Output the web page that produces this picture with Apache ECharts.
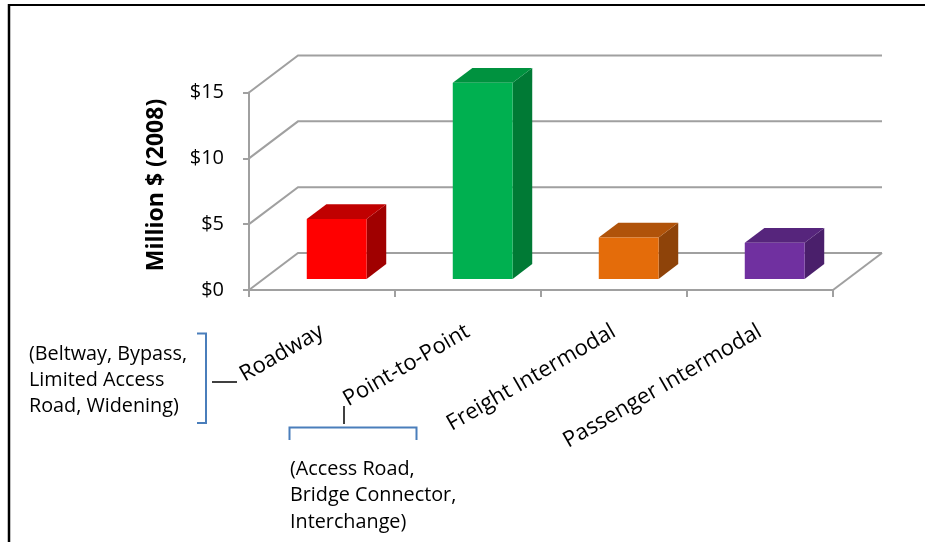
<!DOCTYPE html>
<html>
<head>
<meta charset="utf-8">
<script src="https://cdn.jsdelivr.net/npm/echarts/dist/echarts.min.js"></script>
<style>
  html, body { margin: 0; padding: 0; background: #ffffff; }
  #chart { width: 925px; height: 542px; }
</style>
</head>
<body>
<div id="chart"></div>
<script>
// Project categories and their average cost (million 2008 dollars)
const categories = ['Roadway', 'Point-to-Point', 'Freight Intermodal', 'Passenger Intermodal'];
const costs = [4.55, 14.9, 3.15, 2.75];
const yTicks = [0, 5, 10, 15];

// Face shading for each box: front, top, side
const frontColors = ['#ff0000', '#00b050', '#e46c0a', '#7030a0'];
const topColors   = ['#c00000', '#00923f', '#b0530a', '#56257c'];
const sideColors  = ['#a00000', '#007a35', '#8e4309', '#4a1f6b'];

// Oblique depth of the floor / back wall, in pixels
const DEPTH_X = 49;
const DEPTH_Y = -37;
// Bars sit between these fractions of the depth
const BAR_FRONT = 0.3;
const BAR_BACK = 0.7;
const BAR_WIDTH_RATIO = 0.41;

const GRID_COLOR = '#a0a0a0';
const FONT = '"Open Sans", "DejaVu Sans", sans-serif';

const chart = echarts.init(document.getElementById('chart'), null, { renderer: 'canvas' });

function renderWall(params, api) {
  const cs = params.coordSys;
  const v = api.value(1);
  const y = api.coord([0, v])[1];
  const xl = cs.x;
  const xr = cs.x + cs.width;
  const style = { stroke: GRID_COLOR, lineWidth: 2, fill: null };
  const children = [{
    type: 'polyline',
    shape: { points: [[xl, y], [xl + DEPTH_X, y + DEPTH_Y], [xr + DEPTH_X, y + DEPTH_Y]] },
    style: style
  }];
  if (v === 0) {
    children.push({
      type: 'line',
      shape: { x1: xr, y1: y, x2: xr + DEPTH_X, y2: y + DEPTH_Y },
      style: style
    });
  }
  return { type: 'group', children: children };
}

function renderBox(params, api) {
  const i = api.value(0);
  const val = api.value(1);
  const base = api.coord([i, 0]);
  const top = api.coord([i, val]);
  const band = api.size([1, 0])[0];
  const w = band * BAR_WIDTH_RATIO;
  const ox = DEPTH_X * BAR_FRONT, oy = DEPTH_Y * BAR_FRONT;
  const dx = DEPTH_X * (BAR_BACK - BAR_FRONT), dy = DEPTH_Y * (BAR_BACK - BAR_FRONT);
  const L = base[0] - w / 2 + ox;
  const R = L + w;
  const T = top[1] + oy;
  const B = base[1] + oy;
  return {
    type: 'group',
    children: [
      {
        type: 'polygon',
        shape: { points: [[R, T], [R + dx, T + dy], [R + dx, B + dy], [R, B]] },
        style: { fill: sideColors[i] }
      },
      {
        type: 'polygon',
        shape: { points: [[L, T], [R, T], [R + dx, T + dy], [L + dx, T + dy]] },
        style: { fill: topColors[i] }
      },
      {
        type: 'rect',
        shape: { x: L, y: T, width: w, height: B - T },
        style: { fill: frontColors[i] }
      }
    ]
  };
}

const option = {
  animation: false,
  backgroundColor: '#ffffff',
  grid: { left: 249, right: 92, top: 92.5, bottom: 252, containLabel: false },
  xAxis: {
    type: 'category',
    data: categories,
    boundaryGap: true,
    axisLine: { show: true, lineStyle: { color: GRID_COLOR, width: 2 } },
    axisTick: { show: true, length: 7, alignWithLabel: false, lineStyle: { color: GRID_COLOR, width: 2 } },
    axisLabel: {
      interval: 0, rotate: 30, margin: 40,
      color: '#000000', fontFamily: FONT, fontSize: 22
    },
    splitLine: { show: false }
  },
  yAxis: {
    type: 'value',
    min: 0, max: 15, interval: 5,
    axisLine: { show: true, lineStyle: { color: GRID_COLOR, width: 2 } },
    axisTick: { show: true, length: 6, lineStyle: { color: GRID_COLOR, width: 2 } },
    axisLabel: {
      margin: 25, color: '#000000', fontFamily: FONT, fontSize: 20,
      formatter: function (v) { return '$' + v; }
    },
    splitLine: { show: false }
  },
  series: [
    {
      type: 'custom',
      name: 'walls',
      clip: false,
      z: 1,
      silent: true,
      data: yTicks.map(function (v) { return [0, v]; }),
      renderItem: renderWall
    },
    {
      type: 'custom',
      name: 'cost',
      clip: false,
      z: 3,
      data: costs.map(function (v, i) { return [i, v]; }),
      renderItem: renderBox
    }
  ],
  graphic: [
    // outer frame edges
    { type: 'line', shape: { x1: 8, y1: 5, x2: 925, y2: 5 }, style: { stroke: '#000', lineWidth: 2 } },
    { type: 'line', shape: { x1: 9, y1: 4, x2: 9, y2: 542 }, style: { stroke: '#000', lineWidth: 2.5 } },
    // value axis title
    {
      type: 'text', x: 156, y: 185, rotation: Math.PI / 2,
      style: {
        text: 'Million $ (2008)', x: 0, y: 0, align: 'center', verticalAlign: 'middle',
        fill: '#000', font: 'bold 23px ' + FONT
      }
    },
    // Roadway note
    {
      type: 'text', x: 29, y: 341,
      style: {
        text: '(Beltway, Bypass,\nLimited Access\nRoad, Widening)',
        fill: '#000', font: '19.8px ' + FONT, lineHeight: 26, align: 'left', verticalAlign: 'top'
      }
    },
    {
      type: 'polyline',
      shape: { points: [[197, 333.5], [206, 333.5], [206, 423], [197, 423]] },
      style: { stroke: '#4a7ebb', lineWidth: 2, fill: null }
    },
    { type: 'line', shape: { x1: 212, y1: 382, x2: 237, y2: 382 }, style: { stroke: '#000', lineWidth: 1.5 } },
    // Point-to-Point note
    { type: 'line', shape: { x1: 344, y1: 406, x2: 344, y2: 424 }, style: { stroke: '#000', lineWidth: 1.5 } },
    {
      type: 'polyline',
      shape: { points: [[289.5, 440], [289.5, 427.5], [416.5, 427.5], [416.5, 440]] },
      style: { stroke: '#4a7ebb', lineWidth: 2, fill: null }
    },
    {
      type: 'text', x: 290, y: 456,
      style: {
        text: '(Access Road,\nBridge Connector,\nInterchange)',
        fill: '#000', font: '19.8px ' + FONT, lineHeight: 26.5, align: 'left', verticalAlign: 'top'
      }
    }
  ]
};

chart.setOption(option);
</script>
</body>
</html>
